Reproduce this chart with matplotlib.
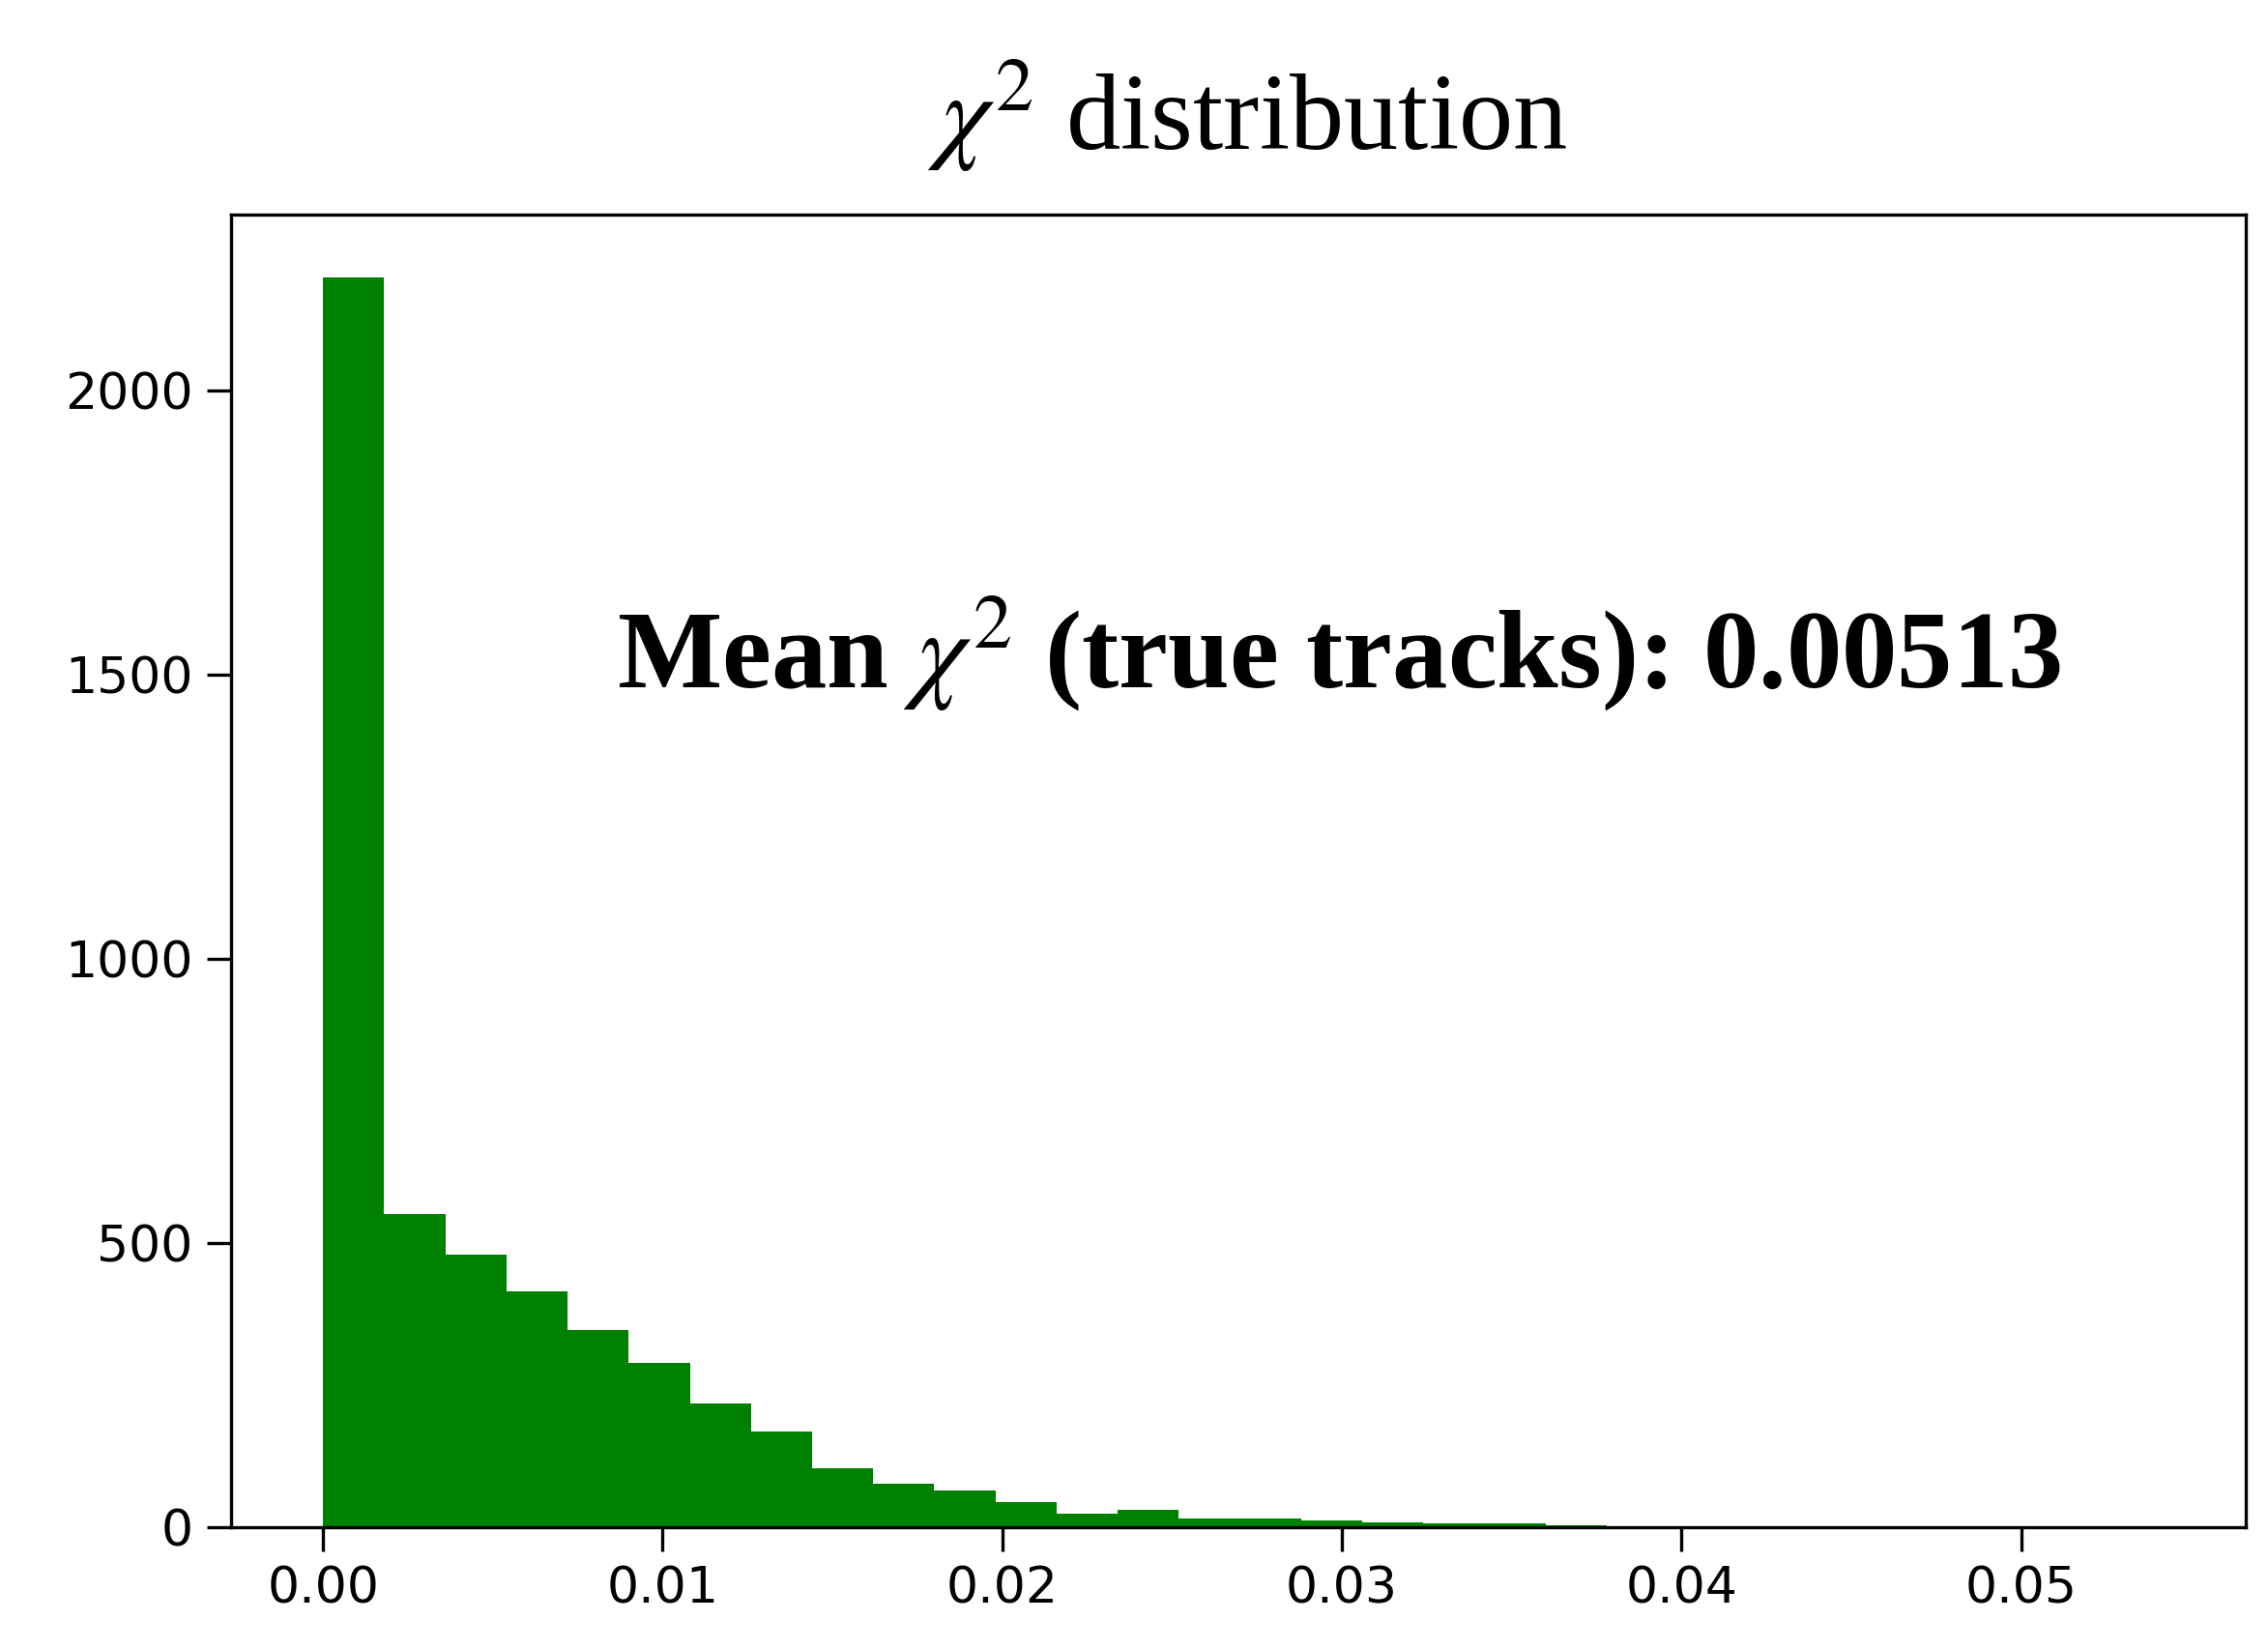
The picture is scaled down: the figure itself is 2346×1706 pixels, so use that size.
import numpy as np
import matplotlib.pyplot as plt

plt.rcParams['mathtext.fontset'] = 'stix'

# histogram of chi2 values (counts)
bin_width = 0.0018
counts = [2199, 550, 479, 415, 346, 288, 217, 168, 104, 76, 64, 43, 23, 30, 15,
          15, 12, 8, 6, 6, 3, 2, 1, 1, 0, 0, 0, 0, 0, 1]
mean_chi2 = 0.00513

edges = np.arange(len(counts)) * bin_width

fig = plt.figure(figsize=(7.82, 5.687), dpi=300)
ax = fig.add_axes([0.102, 0.074, 0.888, 0.796])
ax.bar(edges, counts, width=bin_width, align='edge', color='green', linewidth=0)
ax.set_xlim(-0.0027, 0.0566)
ax.set_ylim(0, 2310)
ax.set_xticks([0.0, 0.01, 0.02, 0.03, 0.04, 0.05])
ax.set_xticklabels(['0.00', '0.01', '0.02', '0.03', '0.04', '0.05'])
ax.set_yticks([0, 500, 1000, 1500, 2000])
ax.tick_params(labelsize=12.5, length=6)

fig.text(0.55, 0.93, r'$\chi^2$ distribution', ha='center', va='center',
         fontsize=27, family='Liberation Serif')
ax.text(0.55, 0.665, r'Mean $\chi^2$ (true tracks): ' + f'{mean_chi2:.5f}',
        transform=ax.transAxes, ha='center', va='center', fontsize=27.5,
        fontweight='bold', family='Liberation Serif',
        bbox=dict(facecolor='white', edgecolor='none', pad=8))

fig.savefig('out.png')
